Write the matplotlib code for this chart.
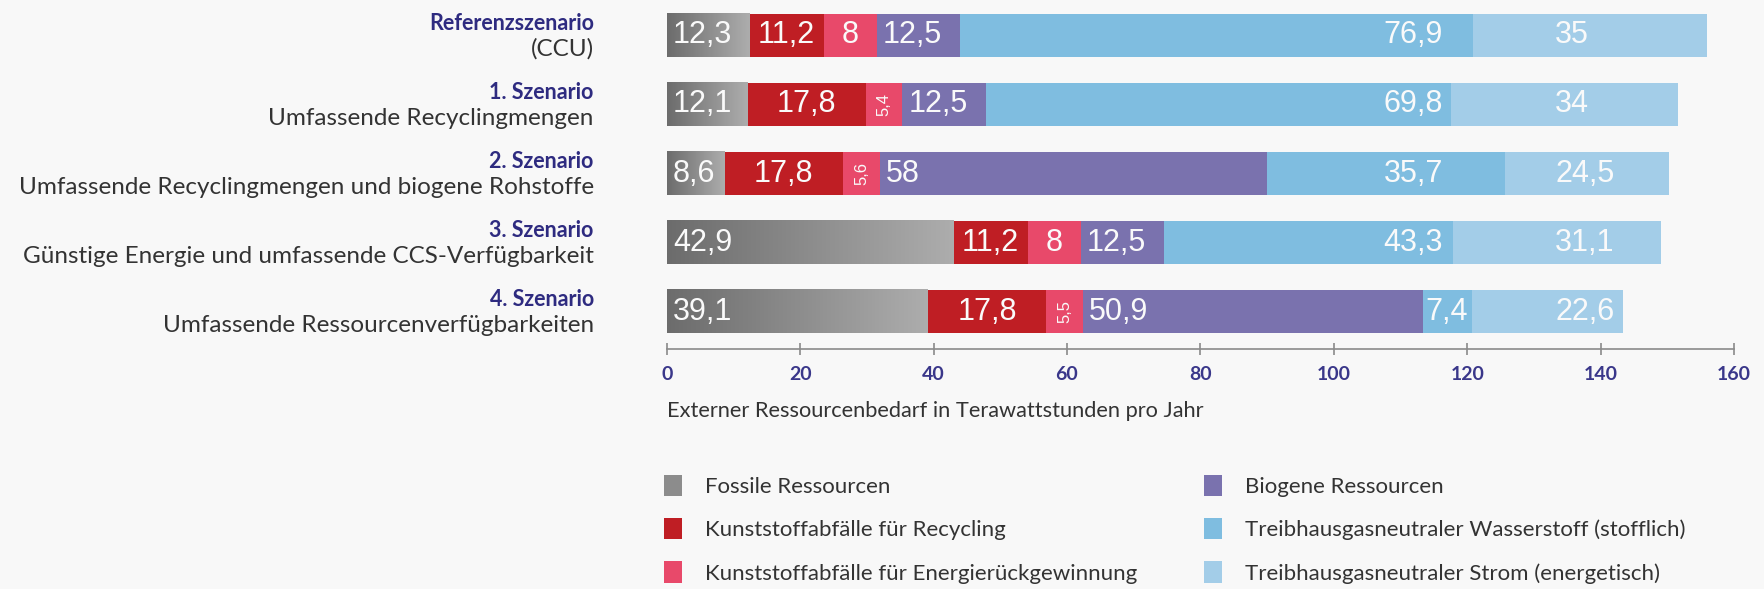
import matplotlib
matplotlib.use("Agg")
import matplotlib.pyplot as plt
import numpy as np
from matplotlib.colors import LinearSegmentedColormap
from matplotlib.patches import Patch

# scenario labels (bold title, subtitle)
titles = ["Referenzszenario", "1. Szenario", "2. Szenario", "3. Szenario", "4. Szenario"]
subtitles = ["(CCU)",
             "Umfassende Recyclingmengen",
             "Umfassende Recyclingmengen und biogene Rohstoffe",
             "Günstige Energie und umfassende CCS-Verfügbarkeit",
             "Umfassende Ressourcenverfügbarkeiten"]

# values in TWh / year
fossil      = [12.3, 12.1, 8.6, 42.9, 39.1]
recycling   = [11.2, 17.8, 17.8, 11.2, 17.8]
energy_rec  = [8.0, 5.4, 5.6, 8.0, 5.5]
biogenic    = [12.5, 12.5, 58.0, 12.5, 50.9]
hydrogen    = [76.9, 69.8, 35.7, 43.3, 7.4]
electricity = [35.0, 34.0, 24.5, 31.1, 22.6]

series_names = ["Fossile Ressourcen",
                "Kunststoffabfälle für Recycling",
                "Kunststoffabfälle für Energierückgewinnung",
                "Biogene Ressourcen",
                "Treibhausgasneutraler Wasserstoff (stofflich)",
                "Treibhausgasneutraler Strom (energetisch)"]
colors = ["#8c8c8c", "#bf1e24", "#e8496a", "#7a72ae", "#7fbde0", "#a3cde8"]

navy = "#2e2b80"
bg = "#f8f8f8"
txt_font = ["Lato", "DejaVu Sans"]
num_font = ["Liberation Sans Narrow", "Liberation Sans", "DejaVu Sans"]

fig = plt.figure(figsize=(17.64, 5.89), dpi=100, facecolor=bg)
ax = fig.add_axes([0.378, 0.4075, 0.605, 0.591])
ax.set_facecolor(bg)

data = [fossil, recycling, energy_rec, biogenic, hydrogen, electricity]
ypos = np.arange(len(titles))
bh = 0.63
left = np.zeros(len(titles))
all_bars = []
for vals, c in zip(data, colors):
    bars = ax.barh(ypos, vals, left=left, height=bh, color=c, zorder=2)
    all_bars.append(bars)
    left = left + np.array(vals)

# gradient on fossil bars
grey_cmap = LinearSegmentedColormap.from_list("g", ["#6c6c6c", "#adadad"])
grad = np.linspace(0, 1, 256).reshape(1, -1)
for b in all_bars[0]:
    x0, y0, w, h = b.get_x(), b.get_y(), b.get_width(), b.get_height()
    ax.imshow(grad, cmap=grey_cmap, extent=[x0, x0 + w, y0 + h, y0],
              aspect="auto", zorder=3)

# value labels
lbl = dict(color="#fafafa", fontsize=22, family=num_font, va="center", zorder=5)
for i in range(len(titles)):
    starts = np.cumsum([0] + [d[i] for d in data])
    for k, d in enumerate(data):
        v = d[i]
        s = ("%g" % v).replace(".", ",")
        x0, x1 = starts[k], starts[k + 1]
        if k == 0 or k == 3:
            ax.text(x0 + 0.9, i, s, ha="left", **lbl)
        elif k == 1 or (k == 2 and v >= 7):
            ax.text((x0 + x1) / 2, i, s, ha="center", **lbl)
        elif k == 2:
            ax.text((x0 + x1) / 2, i, s, ha="center", color="#fafafa",
                    fontsize=12, family=num_font, va="center", rotation=90, zorder=5)
        elif k == 4:
            if x0 < 100:
                ax.text(116.4, i, s, ha="right", **lbl)
            else:
                ax.text(x0 + 0.4, i, s, ha="left", **lbl)
        else:
            ax.text(133.2, i, s, ha="left", **lbl)

ax.set_xlim(0, 160)
ax.set_ylim(4.54, -0.5)
ax.set_xticks(np.arange(0, 161, 20))
ax.set_yticks([])
for sp in ["top", "right", "left"]:
    ax.spines[sp].set_visible(False)
ax.spines["bottom"].set_color("#8a8a8a")
ax.spines["bottom"].set_linewidth(1.2)
ax.tick_params(axis="x", direction="inout", length=9, width=1.2, color="#8a8a8a",
               labelcolor="#3a378a", labelsize=14, pad=8)
for t in ax.get_xticklabels():
    t.set_family(txt_font)
    t.set_fontweight("bold")

ax.set_xlabel("Externer Ressourcenbedarf in Terawattstunden pro Jahr",
              fontsize=15.7, color="#333333", family=txt_font, loc="left", labelpad=13)

# scenario labels
tr = ax.get_yaxis_transform()
for i in range(len(titles)):
    ax.annotate(titles[i], (-0.0684, i), xycoords=tr, xytext=(0, 8.5),
                textcoords="offset points", ha="right", va="center",
                fontsize=15.5, fontweight="bold", color=navy, family=txt_font,
                annotation_clip=False)
    ax.annotate(subtitles[i], (-0.0684, i), xycoords=tr, xytext=(0, -10),
                textcoords="offset points", ha="right", va="center",
                fontsize=17.5, color="#333333", family=txt_font,
                annotation_clip=False)

handles = [Patch(facecolor=c, edgecolor="none") for c in colors]
fig.legend(handles, series_names, ncols=2, loc="upper left",
           bbox_to_anchor=(0.365, 0.228), frameon=False,
           prop={"family": txt_font, "size": 16}, labelcolor="#333333",
           handlelength=0.8, handleheight=1.1, handletextpad=1.05,
           labelspacing=0.95, columnspacing=3.0)

fig.savefig("out.png", dpi=100, facecolor=bg)
